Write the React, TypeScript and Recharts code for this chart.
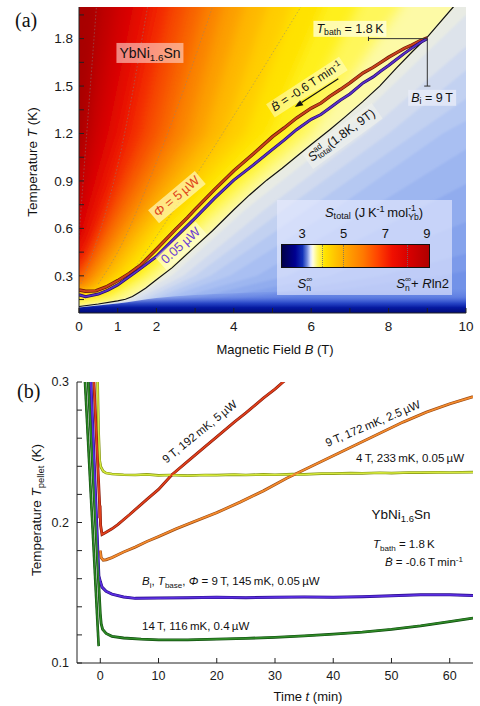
import React from 'react';
import { ComposedChart, Area, Line, XAxis, YAxis, ReferenceLine } from 'recharts';

const FONT = '"Liberation Sans", Arial, "DejaVu Sans", sans-serif';
const SERIF = '"Liberation Serif", "DejaVu Serif", serif';

// ---------------- Panel (a): T(B) during demagnetisation ----------------
const A_B_DOMAIN: [number, number] = [0, 10];
const A_T_DOMAIN: [number, number] = [0.065, 2.0];
const A_B_TICKS = [0, 1, 2, 3, 4, 5, 6, 7, 8, 9, 10];
const A_B_LABELS = [0, 1, 2, 4, 6, 8, 10];
const A_T_TICKS = [0.15, 0.3, 0.45, 0.6, 0.75, 0.9, 1.05, 1.2, 1.35, 1.5, 1.65, 1.8, 1.95];
const A_T_LABELS = [0.3, 0.6, 0.9, 1.2, 1.5, 1.8];

// adiabat S_total^ad(1.8 K, 9 T)
const adiabat = [
  [0, 0.106], [0.5, 0.122], [1.0, 0.142], [1.2, 0.152], [1.38, 0.169], [1.55, 0.195],
  [1.72, 0.222], [2.0, 0.275], [2.41, 0.352], [3.0, 0.485], [3.45, 0.585], [4.0, 0.718],
  [4.4, 0.81], [4.85, 0.905], [5.25, 0.98], [5.62, 1.055], [6.0, 1.13], [6.48, 1.224],
  [6.9, 1.31], [7.34, 1.403], [7.77, 1.5], [8.2, 1.614], [8.63, 1.722], [9.0, 1.81],
  [9.67, 2.0], [10.0, 2.09],
];
// measured pellet temperature, heat load 5 uW
const trace5uW = [
  [0, 0.211], [0.17, 0.203], [0.43, 0.205], [0.7, 0.23], [1.0, 0.27], [1.3, 0.315],
  [1.6, 0.37], [2.0, 0.468], [2.5, 0.595], [2.8, 0.668], [3.0, 0.72], [3.5, 0.845],
  [4.0, 0.965], [4.5, 1.07], [5.0, 1.18], [5.3, 1.235], [5.62, 1.298], [6.0, 1.36],
  [6.25, 1.392], [6.48, 1.435], [6.75, 1.478], [7.0, 1.52], [7.34, 1.583], [7.6, 1.618],
  [7.8, 1.65], [8.0, 1.682], [8.2, 1.71], [8.4, 1.738], [8.6, 1.76], [8.8, 1.785], [9.0, 1.805],
];
// measured pellet temperature, heat load 0.05 uW
const trace005uW = [
  [0, 0.18], [0.17, 0.168], [0.5, 0.185], [0.75, 0.21], [1.0, 0.243], [1.5, 0.33],
  [2.0, 0.422], [2.5, 0.545], [3.0, 0.665], [3.5, 0.79], [4.0, 0.905], [4.5, 1.0],
  [5.0, 1.1], [5.3, 1.158], [5.62, 1.224], [6.0, 1.29], [6.25, 1.32], [6.48, 1.361],
  [6.75, 1.41], [7.0, 1.45], [7.34, 1.52], [7.6, 1.558], [7.8, 1.595], [8.0, 1.63],
  [8.2, 1.668], [8.4, 1.705], [8.6, 1.74], [8.8, 1.772], [9.0, 1.8],
];
// isentropes bounding the colour bands of S_total(B, T), warm -> cold
const isentropeColors = [
  '#a80000', '#c00000', '#d40202', '#e60e00', '#f22800', '#f64600', '#f86400', '#fa8200',
  '#fc9e00', '#feb800', '#ffce00', '#ffe200', '#fff01a', '#fff75a', '#fdfaa6', '#e8ebe4',
  '#dde3eb', '#d0daef', '#c2d1f1', '#b5c8f2', '#a9bff2', '#9db6f0', '#91acee', '#86a3ec',
  '#7c9aea', '#7292e8',
];
const isentropes = [
  [[0, 3], [10, 3]],
  [[0, 1.0], [0.15, 1.2], [0.5, 2.0], [10, 24]],
  [[0, 0.72], [0.4, 1.2], [0.95, 2.0], [10, 17]],
  [[0, 0.52], [0.75, 1.2], [1.4, 2.0], [10, 13]],
  [[0, 0.4], [0.3, 0.55], [1.15, 1.2], [1.85, 2.0], [10, 11]],
  [[0, 0.33], [0.25, 0.42], [1.55, 1.2], [2.3, 2.0], [10, 9.5]],
  [[0, 0.28], [0.05, 0.3], [0.4, 0.45], [1.95, 1.2], [2.75, 2.0], [10, 8.5]],
  [[0, 0.245], [0.2, 0.3], [0.7, 0.5], [2.35, 1.2], [3.2, 2.0], [10, 7.8]],
  [[0, 0.215], [0.2, 0.24], [0.4, 0.3], [1.0, 0.52], [2.8, 1.2], [3.7, 2.0], [10, 7.1]],
  [[0, 0.19], [0.3, 0.22], [0.6, 0.3], [1.3, 0.54], [3.25, 1.2], [4.25, 2.0], [10, 6.5]],
  [[0, 0.17], [0.4, 0.2], [0.85, 0.3], [1.65, 0.56], [3.75, 1.2], [4.85, 2.0], [10, 5.9]],
  [[0, 0.155], [0.5, 0.18], [1.1, 0.3], [2.0, 0.58], [4.3, 1.2], [5.5, 2.0], [10, 5.2]],
  [[0, 0.14], [0.6, 0.165], [1.4, 0.3], [2.4, 0.6], [4.9, 1.2], [6.3, 2.0], [10, 4.3]],
  [[0, 0.128], [0.7, 0.15], [1.7, 0.3], [2.8, 0.6], [5.5, 1.2], [7.2, 2.0], [10, 3.5]],
  [[0, 0.117], [0.9, 0.145], [1.95, 0.3], [3.25, 0.62], [6.0, 1.2], [8.3, 2.0], [10, 2.9]],
  adiabat,
  [[0, 0.1], [1.2, 0.14], [2.4, 0.3], [4.3, 0.72], [6.8, 1.2], [10, 1.95]],
  [[0, 0.095], [1.4, 0.14], [2.7, 0.3], [4.8, 0.72], [7.4, 1.2], [10, 1.75]],
  [[0, 0.09], [1.6, 0.14], [3.0, 0.3], [5.3, 0.72], [8.0, 1.2], [10, 1.6]],
  [[0, 0.086], [1.8, 0.14], [3.4, 0.3], [5.9, 0.72], [8.7, 1.2], [10, 1.42]],
  [[0, 0.082], [2.0, 0.14], [3.9, 0.3], [6.6, 0.72], [9.4, 1.2], [10, 1.28]],
  [[0, 0.078], [2.3, 0.14], [4.6, 0.3], [7.5, 0.72], [10, 1.1]],
  [[0, 0.075], [2.7, 0.14], [5.4, 0.3], [8.6, 0.7], [10, 0.88]],
  [[0, 0.072], [3.2, 0.14], [6.5, 0.3], [10, 0.64]],
  [[0, 0.069], [3.8, 0.14], [7.8, 0.3], [10, 0.44]],
  [[0, 0.066], [4.5, 0.14], [9.3, 0.3], [10, 0.33]],
];
const dottedIsentropes = [
  [[0, 0.55], [0.2, 1.2], [0.45, 2.0]],
  [[0.05, 0.25], [0.5, 0.55], [1.03, 1.03], [1.77, 2.0]],
  [[0.5, 0.25], [1.0, 0.45], [2.02, 1.03], [3.45, 2.0]],
  [[1.3, 0.3], [2.0, 0.55], [3.27, 1.03], [5.73, 2.0]],
];
const lowTBand = [[0, 0.1], [1, 0.125], [2, 0.16], [4, 0.19], [7, 0.21], [10, 0.22]];

// annotation anchors (data coordinates)
const T_BATH = 1.8;
const B_I = 9;
const BRACKET_B_START = 7.48;
const BRACKET_T_END = 1.5;
const RAMP_ARROW = [[6.7, 1.547], [5.58, 1.368]];

// ---------------- Panel (b): T_pellet(t) ----------------
const B_T_DOMAIN: [number, number] = [-4, 64];
const B_Y_DOMAIN: [number, number] = [0.1, 0.3];
const B_T_TICKS = [0, 10, 20, 30, 40, 50, 60];
const B_Y_TICKS = [0.1, 0.12, 0.14, 0.16, 0.18, 0.2, 0.22, 0.24, 0.26, 0.28, 0.3];

const run4T = [
  [-0.55, 0.318], [-0.3, 0.265], [-0.1, 0.244], [0.1, 0.2395], [0.5, 0.2365], [1, 0.2352],
  [2, 0.2345], [4, 0.234], [6, 0.2338], [8, 0.2342], [10, 0.2335], [12, 0.2338], [15, 0.2333],
  [18, 0.2338], [20, 0.2337], [23, 0.2341], [25, 0.2338], [28, 0.2342], [30, 0.234],
  [33, 0.2344], [35, 0.2342], [38, 0.2348], [40, 0.2348], [43, 0.2351], [45, 0.235],
  [48, 0.2354], [50, 0.2352], [53, 0.2356], [55, 0.2355], [58, 0.2357], [60, 0.2356], [64, 0.2358],
];
const run9T25uW = [
  [0.0, 0.18], [0.15, 0.175], [0.5, 0.1732], [1, 0.1735], [2, 0.175], [4, 0.179], [6, 0.1825],
  [8, 0.1865], [10, 0.19], [13, 0.1955], [16, 0.2005], [20, 0.207], [24, 0.2145], [28, 0.2225],
  [32, 0.2315], [36, 0.2395], [40, 0.2475], [44, 0.2555], [48, 0.2635], [52, 0.2715],
  [56, 0.2785], [60, 0.2845], [64, 0.2895],
];
const run9T5uW = [
  [-1.3, 0.318], [-0.12, 0.213], [-0.08, 0.203], [-0.04, 0.212], [0.05, 0.198], [0.3, 0.1915],
  [1, 0.193], [2, 0.1955], [3, 0.1985], [5, 0.2055], [8, 0.2165], [10, 0.2235], [12.3, 0.234],
  [15, 0.2435], [18, 0.254], [20, 0.261], [23, 0.2715], [25, 0.278], [28, 0.2885], [30, 0.295],
  [31.4, 0.3], [33, 0.3055],
];
const run9T005uW = [
  [-1.8, 0.318], [-0.25, 0.162], [0, 0.158], [0.3, 0.154], [1, 0.151], [2, 0.149], [4, 0.147],
  [6, 0.146], [10, 0.1462], [15, 0.1465], [20, 0.1468], [25, 0.1465], [30, 0.1468], [35, 0.147],
  [40, 0.1468], [45, 0.1472], [50, 0.1478], [55, 0.1485], [60, 0.1485], [64, 0.148],
];
const run14T = [
  [-2.3, 0.318], [0.0, 0.135], [0.15, 0.128], [0.4, 0.124], [1, 0.121], [2, 0.119], [4, 0.1178],
  [7, 0.117], [10, 0.1165], [15, 0.1165], [20, 0.117], [25, 0.1175], [30, 0.1183], [35, 0.1193],
  [40, 0.1205], [45, 0.122], [50, 0.124], [55, 0.1265], [60, 0.1295], [64, 0.132],
];
const run14TRamp = [[-2.85, 0.318], [-0.28, 0.112]];

// ---------------- helpers ----------------
const toRows = (arr: number[][], key: string) => arr.map(([x, y]) => ({ [key]: x, T: y }));
// band polygon: same contour, with its ends carried past the clipped plot edge
const toBandRows = (arr: number[][]) => {
  const first = arr[0];
  const last = arr[arr.length - 1];
  return [{ B: first[0] - 1, T: first[1] }, ...toRows(arr, 'B'), { B: last[0] + 1, T: last[1] }];
};
const near = (v: number, list: number[]) => list.some((l) => Math.abs(l - v) < 1e-6);

const Sub = ({ c }: { c: React.ReactNode }) => (
  <span style={{ fontSize: '0.7em', position: 'relative', top: '0.32em' }}>{c}</span>
);
const Sup = ({ c }: { c: React.ReactNode }) => (
  <span style={{ fontSize: '0.7em', position: 'relative', top: '-0.45em' }}>{c}</span>
);
const Stack = ({ sup, sub }: { sup: React.ReactNode; sub: React.ReactNode }) => (
  <span style={{ display: 'inline-block', verticalAlign: '-0.35em', fontSize: '0.66em', lineHeight: '1.0em', textAlign: 'left' }}>
    <span style={{ display: 'block' }}>{sup}</span>
    <span style={{ display: 'block' }}>{sub}</span>
  </span>
);

type TxtProps = {
  x: number; y: number; rot?: number; size?: number; color?: string; bg?: string;
  align?: 'c' | 'l' | 'r'; pad?: string; children: React.ReactNode; font?: string;
};
function Txt({ x, y, rot = 0, size = 12, color = '#111', bg, align = 'c', pad = '1px 3px', children, font = FONT }: TxtProps) {
  const tx = align === 'c' ? '-50%' : align === 'l' ? '0%' : '-100%';
  return (
    <div
      style={{
        position: 'absolute', left: x, top: y, transform: `translate(${tx},-50%) rotate(${rot}deg)`,
        fontSize: size, color, background: bg, padding: bg ? pad : 0, whiteSpace: 'nowrap',
        lineHeight: 1.15, fontFamily: font,
      }}
    >
      {children}
    </div>
  );
}

const ArrowShape = (p: any) => {
  const { x1, y1, x2, y2 } = p;
  const dx = x2 - x1, dy = y2 - y1;
  const len = Math.hypot(dx, dy) || 1;
  const ux = dx / len, uy = dy / len;
  const hl = 8, hw = 3.2;
  const bx = x2 - ux * hl, by = y2 - uy * hl;
  const pts = `${x2},${y2} ${bx - uy * hw},${by + ux * hw} ${bx + uy * hw},${by - ux * hw}`;
  return (
    <g>
      <line x1={x1} y1={y1} x2={bx} y2={by} stroke="#111" strokeWidth={1.2} />
      <polygon points={pts} fill="#111" />
    </g>
  );
};

const axisCommon = { stroke: '#222', allowDataOverflow: true, interval: 0 as const, tickSize: -5 };
const thin = '\u2009';
const BDOT = '\u1E02';

const seriesB = [
  { data: run4T, core: '#d6ea3c', edge: '#7f8f12', w: 1.5 },
  { data: run9T25uW, core: '#f58c2e', edge: '#9a4a14', w: 1.7 },
  { data: run9T5uW, core: '#e0401c', edge: '#861808', w: 1.7 },
  { data: run9T005uW, core: '#5a2ee0', edge: '#260a86', w: 1.8 },
  { data: run14T, core: '#2f8a26', edge: '#0e4a0e', w: 1.6 },
  { data: run14TRamp, core: '#2f8a26', edge: '#0e4a0e', w: 1.4 },
];

export default function App() {
  return (
    <div style={{ position: 'absolute', left: 0, top: 0, width: 480, height: 706, background: '#fff', fontFamily: FONT, overflow: 'hidden' }}>
      <svg width={0} height={0} style={{ position: 'absolute' }}>
        <defs>
          <linearGradient id="lowTGrad" x1="0" y1="0" x2="0" y2="1">
            <stop offset="0" stopColor="#5070e0" stopOpacity={0} />
            <stop offset="0.35" stopColor="#3c5ad7" stopOpacity={0.35} />
            <stop offset="0.6" stopColor="#1432be" stopOpacity={0.8} />
            <stop offset="0.78" stopColor="#0519a0" stopOpacity={1} />
            <stop offset="1" stopColor="#000a78" stopOpacity={1} />
          </linearGradient>
          <filter id="softWarm" x="-10%" y="-10%" width="120%" height="120%">
            <feGaussianBlur stdDeviation="6" />
          </filter>
          <filter id="softCool" x="-10%" y="-10%" width="120%" height="120%">
            <feGaussianBlur stdDeviation="1.3" />
          </filter>
        </defs>
      </svg>

      {/* ---------------- panel (a) ---------------- */}
      <div style={{ position: 'absolute', left: 0, top: 0 }}>
        <ComposedChart width={480} height={360} margin={{ top: 7, right: 14, bottom: 22, left: 39 }}>
          <XAxis
            {...axisCommon} xAxisId={0} type="number" dataKey="B" domain={A_B_DOMAIN} ticks={A_B_TICKS}
            height={25} tickMargin={13} tick={{ fontSize: 13.5, fill: '#1a1a1a', fontFamily: FONT }}
            tickFormatter={(v: number) => (near(v, A_B_LABELS) ? String(v) : '')}
          />
          <XAxis
            {...axisCommon} xAxisId="top" orientation="top" type="number" dataKey="B" domain={A_B_DOMAIN}
            ticks={A_B_TICKS} height={0} tickFormatter={() => ''}
          />
          <YAxis
            {...axisCommon} yAxisId={0} type="number" domain={A_T_DOMAIN} ticks={A_T_TICKS} width={40}
            tickMargin={11} tick={{ fontSize: 13.5, fill: '#1a1a1a', fontFamily: FONT }}
            tickFormatter={(v: number) => (near(v, A_T_LABELS) ? v.toFixed(1) : '')}
          />
          <YAxis
            {...axisCommon} yAxisId="right" orientation="right" type="number" domain={A_T_DOMAIN}
            ticks={A_T_TICKS} width={0} tickFormatter={() => ''}
          />
          {isentropes.map((c, i) => (
            <Area
              key={'iso' + i} data={toBandRows(c)} dataKey="T" type="linear" stroke="none"
              fill={isentropeColors[i]} fillOpacity={1} baseValue={-1}
              filter={i === 0 ? undefined : i < 15 ? 'url(#softWarm)' : 'url(#softCool)'}
              isAnimationActive={false} dot={false} activeDot={false}
            />
          ))}
          <Area
            data={toRows(lowTBand, 'B')} dataKey="T" type="monotone" stroke="none" fill="url(#lowTGrad)"
            fillOpacity={1} baseValue={A_T_DOMAIN[0]} isAnimationActive={false} dot={false} activeDot={false}
          />
          {dottedIsentropes.map((c, i) => (
            <Line
              key={'dot' + i} data={toRows(c, 'B')} dataKey="T" type="monotone" stroke="rgba(130,130,130,0.6)"
              strokeWidth={0.8} strokeDasharray="1.5 2" dot={false} activeDot={false} isAnimationActive={false}
            />
          ))}
          <Line data={toRows(adiabat, 'B')} dataKey="T" type="linear" stroke="#111" strokeWidth={1.2} dot={false} activeDot={false} isAnimationActive={false} />
          <Line data={toRows(trace5uW, 'B')} dataKey="T" type="linear" stroke="#6a1606" strokeWidth={3.4} dot={false} activeDot={false} isAnimationActive={false} />
          <Line data={toRows(trace5uW, 'B')} dataKey="T" type="linear" stroke="#c8421c" strokeWidth={2.0} dot={false} activeDot={false} isAnimationActive={false} />
          <Line data={toRows(trace005uW, 'B')} dataKey="T" type="linear" stroke="#22086e" strokeWidth={3.0} dot={false} activeDot={false} isAnimationActive={false} />
          <Line data={toRows(trace005uW, 'B')} dataKey="T" type="linear" stroke="#5a30c8" strokeWidth={1.7} dot={false} activeDot={false} isAnimationActive={false} />
          <ReferenceLine segment={[{ x: BRACKET_B_START, y: T_BATH }, { x: B_I, y: T_BATH }]} stroke="#333" strokeWidth={1} />
          <ReferenceLine segment={[{ x: BRACKET_B_START, y: T_BATH - 0.015 }, { x: BRACKET_B_START, y: T_BATH + 0.015 }]} stroke="#333" strokeWidth={1} />
          <ReferenceLine segment={[{ x: B_I, y: T_BATH }, { x: B_I, y: BRACKET_T_END }]} stroke="#333" strokeWidth={1} />
          <ReferenceLine segment={[{ x: B_I - 0.08, y: BRACKET_T_END }, { x: B_I + 0.08, y: BRACKET_T_END }]} stroke="#333" strokeWidth={1} />
          <ReferenceLine
            segment={[{ x: RAMP_ARROW[0][0], y: RAMP_ARROW[0][1] }, { x: RAMP_ARROW[1][0], y: RAMP_ARROW[1][1] }]}
            stroke="#111" shape={ArrowShape}
          />
        </ComposedChart>
      </div>

      {/* ---------------- panel (b) ---------------- */}
      <div style={{ position: 'absolute', left: 0, top: 360 }}>
        <ComposedChart width={480} height={346} margin={{ top: 22, right: 7, bottom: 18, left: 37 }}>
          <XAxis
            {...axisCommon} xAxisId={0} type="number" dataKey="t" domain={B_T_DOMAIN} ticks={B_T_TICKS}
            height={25} tickMargin={13} tick={{ fontSize: 12.5, fill: '#1a1a1a', fontFamily: FONT }}
          />
          <XAxis
            {...axisCommon} xAxisId="top" orientation="top" type="number" dataKey="t" domain={B_T_DOMAIN}
            ticks={B_T_TICKS} height={0} tickFormatter={() => ''}
          />
          <YAxis
            {...axisCommon} yAxisId={0} type="number" domain={B_Y_DOMAIN} ticks={B_Y_TICKS} width={40}
            tickMargin={13} tick={{ fontSize: 12.5, fill: '#1a1a1a', fontFamily: FONT }}
            tickFormatter={(v: number) => (Math.abs(v * 10 - Math.round(v * 10)) < 1e-6 ? v.toFixed(1) : '')}
          />
          <YAxis
            {...axisCommon} yAxisId="right" orientation="right" type="number" domain={B_Y_DOMAIN}
            ticks={B_Y_TICKS} width={0} tickFormatter={() => ''}
          />
          {seriesB.map((s, i) => (
            <Line
              key={'e' + i} data={toRows(s.data, 't')} dataKey="T" type="linear" stroke={s.edge}
              strokeWidth={s.w + 1.2} dot={false} activeDot={false} isAnimationActive={false}
            />
          ))}
          {seriesB.map((s, i) => (
            <Line
              key={'c' + i} data={toRows(s.data, 't')} dataKey="T" type="linear" stroke={s.core}
              strokeWidth={s.w} dot={false} activeDot={false} isAnimationActive={false}
            />
          ))}
        </ComposedChart>
      </div>

      {/* ---------------- text, panel (a) ---------------- */}
      <Txt x={15} y={20} align="l" size={20} font={SERIF}>(a)</Txt>
      <Txt x={33} y={162} rot={-90} size={13.5}>Temperature <i>T</i> (K)</Txt>
      <Txt x={275} y={350} size={13}>Magnetic Field <i>B</i> (T)</Txt>
      <Txt x={150} y={53} size={14} bg="rgba(255,215,205,0.62)" pad="2px 3px">YbNi<Sub c="1.6" />Sn</Txt>
      <Txt x={350} y={28.5} size={12.5} bg="rgba(255,255,232,0.72)"><i>T</i><Sub c="bath" /> = 1.8{thin}K</Txt>
      <Txt x={432} y={97.5} size={12.5} bg="rgba(236,239,250,0.72)"><i>B</i><Sub c="i" /> = 9{thin}T</Txt>
      <Txt x={307} y={87} rot={-33} size={12} bg="rgba(255,255,215,0.5)">
        <i>{BDOT}</i> = -0.6{thin}T{thin}min<Sup c="-1" />
      </Txt>
      <Txt x={177} y={197} rot={-40} size={13} color="#e0441a" bg="rgba(255,250,190,0.7)">
        <i>Φ</i> = 5{thin}µW
      </Txt>
      <Txt x={181} y={246} rot={-42} size={13} color="#6b3fd4" bg="rgba(255,255,220,0.6)">0.05{thin}µW</Txt>
      <Txt x={342} y={136} rot={-36} size={12.5} bg="rgba(240,242,236,0.6)">
        <i>S</i><Stack sup="ad" sub="total" />(1.8K, 9T)
      </Txt>

      {/* colour-bar legend */}
      <div style={{ position: 'absolute', left: 277, top: 200, width: 175, height: 95, background: 'rgba(232,236,255,0.62)' }} />
      <Txt x={374} y={213} size={13}>
        <i>S</i><Sub c="total" /> (J{thin}K<Sup c="-1" />{thin}mol<Stack sup="-1" sub="Yb" />)
      </Txt>
      {[3, 5, 7, 9].map((s) => (
        <Txt key={'cb' + s} x={302 + (s - 3) * 20.83} y={234} size={13}>{s}</Txt>
      ))}
      <div
        style={{
          position: 'absolute', left: 281, top: 244, width: 149, height: 24, boxSizing: 'border-box',
          border: '1px solid #111',
          background:
            'linear-gradient(to right, #00004a 0%, #000090 9%, #1030b8 14%, #6f88dc 17%, #dfe6ff 19.5%, #fffde0 21%, #fff870 24%, #ffe400 29%, #ffc000 37%, #ffa000 45%, #ff7a00 55%, #ff4400 65%, #f01000 75%, #d80000 86%, #b00000 100%)',
        }}
      />
      {[41, 62, 126].map((dx) => (
        <div key={'cbl' + dx} style={{ position: 'absolute', left: 281 + dx, top: 245, width: 0, height: 22, borderLeft: '1px dotted rgba(110,110,110,0.8)' }} />
      ))}
      <Txt x={305} y={284} size={13}><i>S</i><Stack sup="∞" sub="n" /></Txt>
      <Txt x={449} y={284} size={13} align="r"><i>S</i><Stack sup="∞" sub="n" />+ <i>R</i>ln2</Txt>

      {/* ---------------- text, panel (b) ---------------- */}
      <Txt x={17} y={391} align="l" size={20} font={SERIF}>(b)</Txt>
      <Txt x={37} y={510} rot={-90} size={13.5}>Temperature <i>T</i><Sub c="pellet" /> (K)</Txt>
      <Txt x={308} y={697} size={13}>Time <i>t</i> (min)</Txt>
      <Txt x={200} y={432} rot={-39} size={11.5}>9{thin}T, 192{thin}mK, 5{thin}µW</Txt>
      <Txt x={373} y={424} rot={-23} size={11.5}>9{thin}T, 172{thin}mK, 2.5{thin}µW</Txt>
      <Txt x={410} y={459} size={11.5}>4{thin}T, 233{thin}mK, 0.05{thin}µW</Txt>
      <Txt x={401} y={515} size={13.5}>YbNi<Sub c="1.6" />Sn</Txt>
      <Txt x={373} y={545} align="l" size={11.5}><i>T</i><Sub c="bath" /> = 1.8{thin}K</Txt>
      <Txt x={385} y={563} align="l" size={11.5}><i>{BDOT}</i> = -0.6{thin}T{thin}min<Sup c="-1" /></Txt>
      <Txt x={142} y={582} align="l" size={11.5}>
        <i>B</i><Sub c="i" />, <i>T</i><Sub c="base" />, <i>Φ</i> = 9{thin}T, 145{thin}mK, 0.05{thin}µW
      </Txt>
      <Txt x={142} y={627} align="l" size={11.5}>14{thin}T, 116{thin}mK, 0.4{thin}µW</Txt>
    </div>
  );
}
